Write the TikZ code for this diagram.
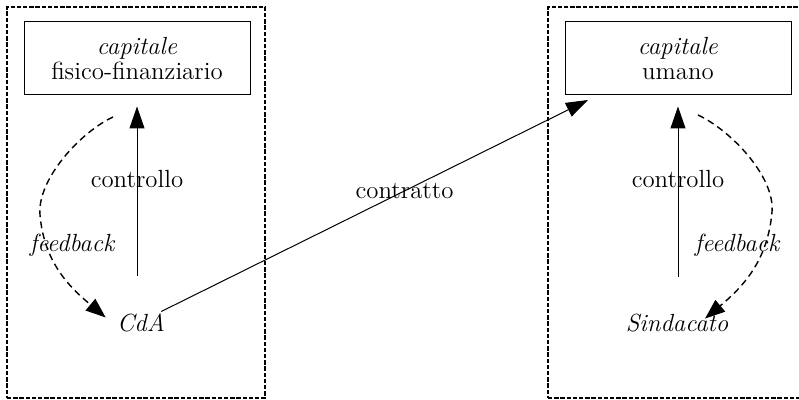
\documentclass[tikz,border=0pt]{standalone}
\usepackage{tikz}
\usetikzlibrary{arrows.meta, positioning}

\begin{document}
\begin{tikzpicture}[
  x=0.5pt, y=-0.5pt,
  every node/.style={font=\fontsize{12.4}{12.5}\selectfont},
  panel/.style={draw, dash pattern=on 2.2pt off 0.9pt, line width=0.75pt,
                minimum width=129pt, minimum height=195.5pt, inner sep=0pt},
  capbox/.style={draw, line width=0.5pt, minimum width=113pt,
                 minimum height=36.5pt, align=center, inner sep=0pt},
  actor/.style={font=\fontsize{12.4}{12.5}\selectfont\itshape, inner sep=2pt},
  arrow/.style={-{Triangle[length=11pt, width=7.5pt]}, line width=0.5pt},
  fback/.style={-{Triangle[length=10pt, width=7.5pt]}, line width=0.7pt,
                dash pattern=on 3.4pt off 2.2pt}
]
\useasboundingbox (0,0) rectangle (799,400);

% the two sides
\node[panel] (sx) at (136,202.5) {};
\node[panel] (dx) at (677,202.5) {};

\node[capbox] (fisico) at (137,58.5) {\textit{capitale}\\fisico-finanziario};
\node[capbox] (umano) at (678,58.5) {\textit{capitale}\\umano};

\node[actor] (cda) at (141,323) {CdA};
\node[actor] (sind) at (677,323) {Sindacato};
\node[actor] (fbsx) at (72,245) {feedback};
\node[actor] (fbdx) at (737,245) {feedback};

\coordinate (hit) at (588,100);

% controllo
\draw[arrow, shorten <=16.5pt, shorten >=5.5pt] (fisico.south |- cda.north) --
  node[pos=0.61] {controllo} (fisico.south);
\draw[arrow, shorten <=16.5pt, shorten >=5.5pt] (umano.south |- sind.north) --
  node[pos=0.61] {controllo} (umano.south);

% contratto
\draw[arrow] ([xshift=-4pt,yshift=-1pt]cda.north east) -- node[pos=0.57] {contratto} (hit);

% feedback
\draw[fback] (113,117) to[out=205,in=95,looseness=0.75] (40,215)
  to[out=-85,in=140] ([xshift=-3.5pt,yshift=-4pt]cda.north west);
\draw[fback] (698,115) to[out=-25,in=85,looseness=0.75] (772,212)
  to[out=-95,in=40] ([xshift=14pt,yshift=-4.5pt]sind.north);
\end{tikzpicture}
\end{document}
